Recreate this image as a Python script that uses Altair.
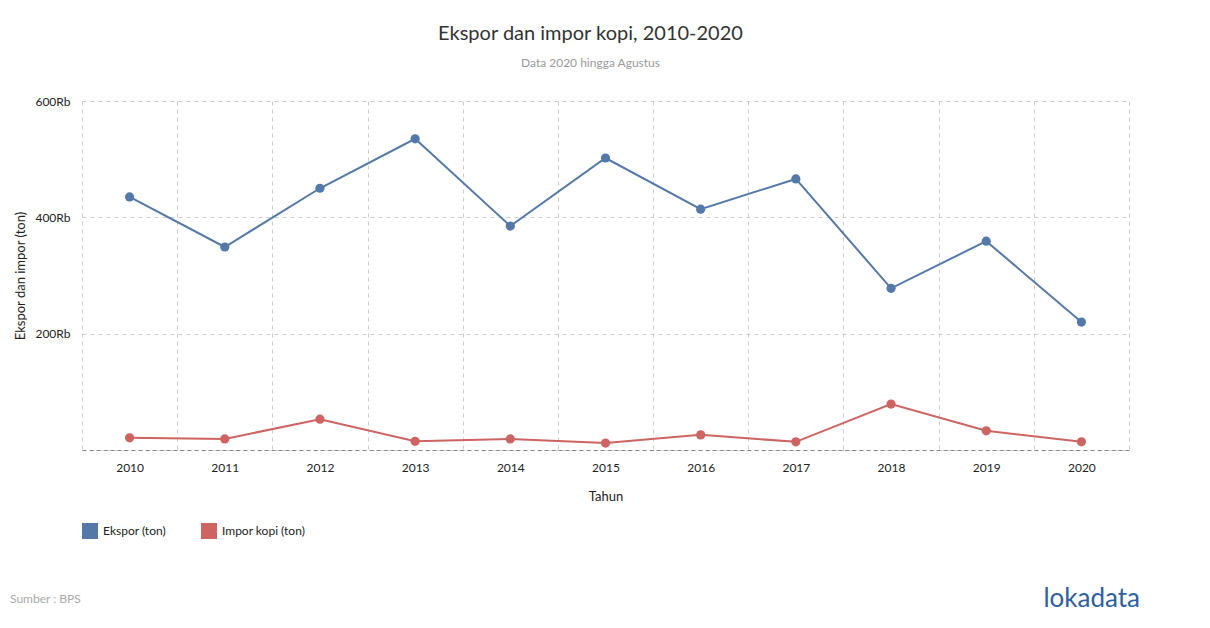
import altair as alt
import pandas as pd

years = [str(y) for y in range(2010, 2021)]
ekspor = [435000, 349000, 450000, 535000, 385000, 502000, 414000, 466000, 278000, 359000, 220000]
impor = [21000, 19000, 53000, 15000, 19000, 12000, 26000, 14000, 79000, 33000, 14000]
series = ["Ekspor (ton)", "Impor kopi (ton)"]
colors = ["#5479a8", "#cd6462"]
source_text = ["Sumber : BPS"]
logo_text = ["lokadata"]

rows = []
for y, e, i in zip(years, ekspor, impor):
    rows.append({"Tahun": y, "Seri": series[0], "Nilai": e})
    rows.append({"Tahun": y, "Seri": series[1], "Nilai": i})
df = pd.DataFrame(rows)

FONT = "Lato"

x = alt.X(
    "Tahun:O",
    bandPosition=0.5,
    scale=alt.Scale(type="band", paddingInner=0, paddingOuter=0),
    axis=alt.Axis(
        title="Tahun", labelAngle=0, tickBand="extent", grid=True,
        gridColor="#cccccc", gridDash=[4, 4], ticks=False,
        domainColor="#888888", domainDash=[4, 3], labelPadding=12,
        labelFontSize=12, labelColor="#222222", titleFontSize=13,
        titleFontWeight="normal", titleColor="#222222", titlePadding=17,
    ),
)
y = alt.Y(
    "Nilai:Q",
    scale=alt.Scale(domain=[0, 600000], nice=False),
    axis=alt.Axis(
        title="Ekspor dan impor (ton)", values=[0, 200000, 400000, 600000],
        labelExpr="datum.value == 0 ? '' : (datum.value / 1000) + 'Rb'",
        grid=True, gridColor="#cccccc", gridDash=[4, 4], ticks=False,
        domain=False, labelPadding=12, labelFontSize=12, labelColor="#222222",
        titleFontSize=13, titleFontWeight="normal", titleColor="#222222",
        titlePadding=7,
    ),
)
color = alt.Color(
    "Seri:N",
    scale=alt.Scale(domain=series, range=colors),
    legend=alt.Legend(
        title=None, orient="none", legendX=0, legendY=422, direction="horizontal",
        symbolType="square", symbolSize=256, symbolStrokeWidth=0,
        labelFontSize=12, labelColor="#222222", columnPadding=35, labelOffset=5,
    ),
)

base = alt.Chart(df).encode(x=x, y=y, color=color)
lines = base.mark_line(strokeWidth=2)
points = base.mark_circle(size=85, opacity=1)

source = alt.Chart(pd.DataFrame({"t": source_text})).mark_text(
    align="left", baseline="alphabetic", fontSize=12,
    color="#aaaaaa", font=FONT,
).encode(text="t:N", x=alt.value(-72), y=alt.value(502))
logo = alt.Chart(pd.DataFrame({"t": logo_text})).mark_text(
    align="right", baseline="alphabetic", fontSize=26,
    color="#2e5f9f", font=FONT,
).encode(text="t:N", x=alt.value(1058), y=alt.value(506))

chart = alt.layer(lines, points, source, logo).properties(
    width=1047, height=349,
    title=alt.TitleParams(
        text="Ekspor dan impor kopi, 2010-2020",
        subtitle="Data 2020 hingga Agustus",
        fontSize=20, fontWeight="normal", color="#333333", font=FONT,
        subtitleFontSize=12, subtitleColor="#999999", subtitleFont=FONT,
        subtitlePadding=14, anchor="middle", dx=-15, offset=26,
    ),
    autosize=alt.AutoSizeParams(type="none"),
    padding={"left": 74, "top": 93, "right": 73, "bottom": 170},
).configure(font=FONT).configure_view(stroke=None)

chart.save("out.html", embed_options={"renderer": "svg", "actions": False})
